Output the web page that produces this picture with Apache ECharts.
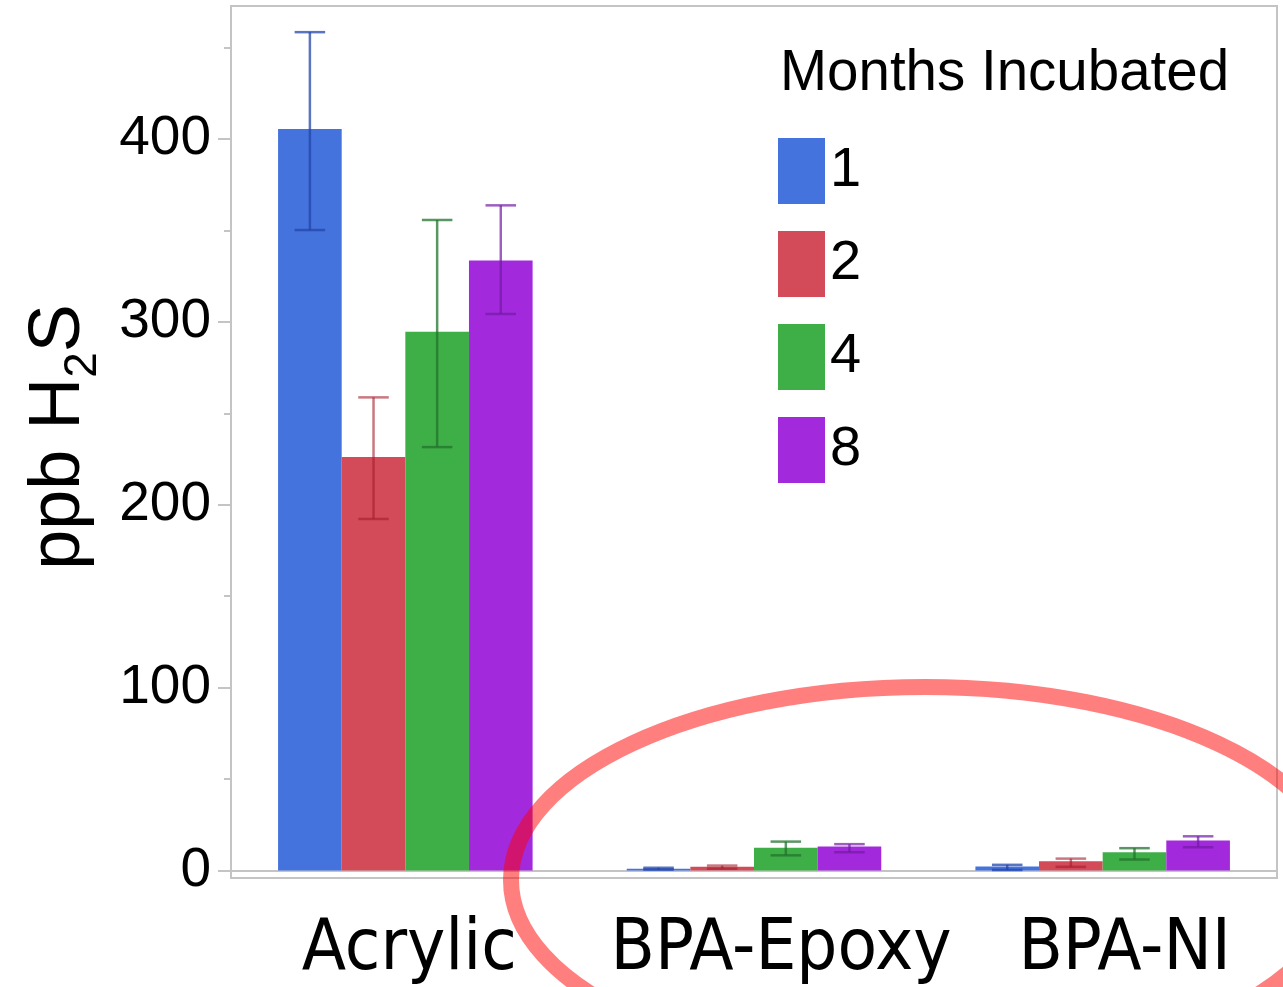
<!DOCTYPE html>
<html>
<head>
<meta charset="utf-8">
<script src="https://cdn.jsdelivr.net/npm/echarts@6/dist/echarts.min.js"></script>
<style>
html,body{margin:0;padding:0;background:#fff;}
#chart{width:1283px;height:987px;}
</style>
</head>
<body>
<div id="chart"></div>
<script>
// ---- data ----
const categories = ['Acrylic', 'BPA-Epoxy', 'BPA-NI'];
const months = ['1', '2', '4', '8'];
const month1 = [405.4, 1.0, 2.2];
const month1Low = [350.2, 0.5, 0.3];
const month1High = [458.4, 1.5, 3.1];
const month2 = [226.1, 2.0, 5.0];
const month2Low = [192.2, 1.0, 2.0];
const month2High = [258.7, 2.7, 6.5];
const month4 = [294.6, 12.5, 10.0];
const month4Low = [231.5, 8.3, 6.0];
const month4High = [355.7, 15.8, 12.2];
const month8 = [333.6, 13.1, 16.4];
const month8Low = [304.3, 10.0, 12.7];
const month8High = [363.7, 14.4, 18.7];
const yMajorTicks = [0, 100, 200, 300, 400];
const yMinorTicks = [50, 150, 250, 350, 450];

const means = [month1, month2, month4, month8];
const lows = [month1Low, month2Low, month4Low, month8Low];
const highs = [month1High, month2High, month4High, month8High];

const barColors = ['#4473DD', '#D34A58', '#3EAF46', '#A22ADC'];
const errColors = ['rgba(35,70,170,0.75)', 'rgba(165,30,45,0.6)', 'rgba(35,115,45,0.75)', 'rgba(115,25,165,0.7)'];
const gapFrac = 0.27;
// label nudges (px, rightward) to follow the reference's label placement
const labelShift = [8, 54, 44];

const chart = echarts.init(document.getElementById('chart'), null, {renderer: 'canvas'});

const series = [];
months.forEach((m, i) => {
  series.push({
    name: m,
    type: 'bar',
    data: means[i],
    barGap: '0%',
    barCategoryGap: '27%',
    itemStyle: {color: barColors[i]},
    emphasis: {disabled: true},
    z: 2
  });
});
months.forEach((m, i) => {
  series.push({
    name: m + ' err',
    type: 'custom',
    data: categories.map((c, j) => [j, lows[i][j], highs[i][j]]),
    z: 3,
    silent: true,
    renderItem: function (params, api) {
      const idx = api.value(0);
      const lo = api.coord([idx, api.value(1)]);
      const hi = api.coord([idx, api.value(2)]);
      const band = api.size([1, 0])[0];
      const bw = band * (1 - gapFrac) / months.length;
      const x = lo[0] + (i - (months.length - 1) / 2) * bw;
      const cap = bw * 0.24;
      const st = {stroke: errColors[i], lineWidth: 2.5, fill: null};
      return {
        type: 'group',
        children: [
          {type: 'line', shape: {x1: x, y1: lo[1], x2: x, y2: hi[1]}, style: st},
          {type: 'line', shape: {x1: x - cap, y1: lo[1], x2: x + cap, y2: lo[1]}, style: st},
          {type: 'line', shape: {x1: x - cap, y1: hi[1], x2: x + cap, y2: hi[1]}, style: st}
        ]
      };
    }
  });
});

const labelRich = {};
categories.forEach((c, j) => {
  labelRich['c' + j] = {
    fontSize: 72, fontFamily: 'DejaVu Sans Condensed', color: '#000',
    padding: [0, 0, 0, labelShift[j]]
  };
});

const option = {
  animation: false,
  backgroundColor: '#fff',
  textStyle: {fontFamily: 'Liberation Sans'},
  grid: {
    left: 231, right: 6, top: 6, bottom: 109,
    show: true, borderColor: '#c4c4c4', borderWidth: 2, containLabel: false
  },
  legend: {
    data: months,
    orient: 'vertical',
    left: 773,
    top: 133,
    icon: 'rect',
    itemWidth: 47,
    itemHeight: 66,
    itemGap: 27,
    selectedMode: false,
    textStyle: {fontSize: 56, color: '#000', fontFamily: 'Liberation Sans', padding: [6, 0, 0, 0]}
  },
  xAxis: {
    type: 'category',
    data: categories,
    axisLine: {lineStyle: {color: '#c4c4c4', width: 2}},
    axisTick: {show: false},
    axisLabel: {
      color: '#000', fontSize: 72, fontFamily: 'DejaVu Sans Condensed', margin: 36, interval: 0,
      formatter: function (v, j) { return '{c' + j + '|' + v + '}'; },
      rich: labelRich
    }
  },
  yAxis: [{
    type: 'value',
    min: -4.1,
    max: 472.7,
    splitLine: {show: false},
    axisLine: {show: true, lineStyle: {color: '#c4c4c4', width: 2}},
    axisTick: {show: true, length: 13, customValues: yMajorTicks, lineStyle: {color: '#c4c4c4', width: 2}},
    axisLabel: {customValues: yMajorTicks, color: '#000', fontSize: 55, margin: 20, fontFamily: 'Liberation Sans'}
  }, {
    type: 'value',
    position: 'left',
    min: -4.1,
    max: 472.7,
    splitLine: {show: false},
    axisLine: {show: false},
    axisTick: {show: true, length: 7, customValues: yMinorTicks, lineStyle: {color: '#c4c4c4', width: 2}},
    axisLabel: {show: false}
  }],
  series: series,
  graphic: [
    {
      type: 'text',
      left: 780,
      top: 46,
      style: {text: 'Months Incubated', fontSize: 56.5, fontFamily: 'Liberation Sans', fill: '#000'}
    },
    {
      type: 'text',
      x: 59,
      y: 437,
      rotation: Math.PI / 2,
      style: {
        text: '{a|ppb H}{s|2}{a|S}',
        align: 'center',
        verticalAlign: 'middle',
        rich: {
          a: {fontSize: 72, fontFamily: 'Liberation Sans', lineHeight: 94, fill: '#000', color: '#000'},
          s: {fontSize: 46, fontFamily: 'Liberation Sans', lineHeight: 46, verticalAlign: 'bottom', fill: '#000', color: '#000'}
        }
      }
    },
    {
      type: 'ellipse',
      shape: {cx: 925, cy: 880, rx: 414, ry: 193},
      style: {fill: null, stroke: 'rgba(255,0,0,0.5)', lineWidth: 16},
      z: 100,
      silent: true
    }
  ]
};
chart.setOption(option);
</script>
</body>
</html>
